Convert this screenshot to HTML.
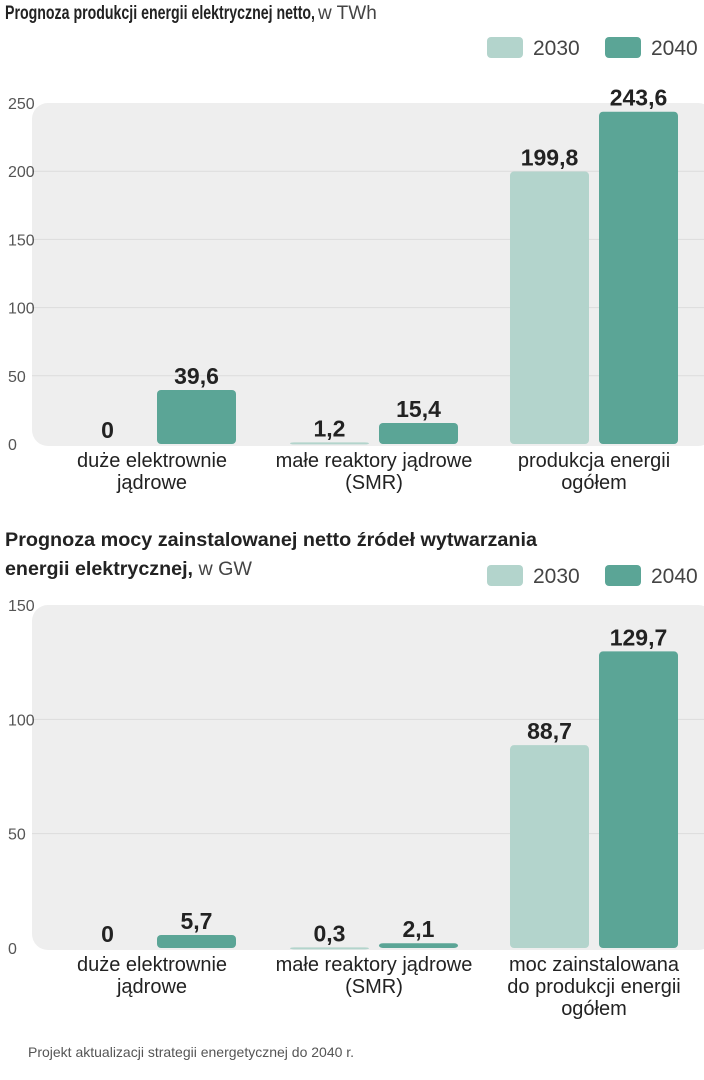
<!DOCTYPE html>
<html><head><meta charset="utf-8"><style>
html,body{margin:0;padding:0;background:#fff;width:704px;height:1080px;overflow:hidden}
svg{display:block;font-family:"Liberation Sans",sans-serif}
</style></head><body>
<svg id="s" width="704" height="1080">
<text x="5" y="19" font-size="19" font-weight="bold" fill="#222" textLength="310" lengthAdjust="spacingAndGlyphs">Prognoza produkcji energii elektrycznej netto,</text>
<text x="318" y="19" font-size="19" fill="#444">w TWh</text>
<text x="5" y="546" font-size="19" font-weight="bold" fill="#222" textLength="532" lengthAdjust="spacingAndGlyphs">Prognoza mocy zainstalowanej netto źródeł wytwarzania</text>
<text x="5" y="575" font-size="19" font-weight="bold" fill="#222" textLength="247" lengthAdjust="spacingAndGlyphs">energii elektrycznej,<tspan font-weight="normal" fill="#444"> w GW</tspan></text>
<text x="28" y="1057" font-size="14" fill="#555">Projekt aktualizacji strategii energetycznej do 2040 r.</text>
</svg>
<script>
const cats1=["duże elektrownie|jądrowe","małe reaktory jądrowe|(SMR)","produkcja energii|ogółem"];
const v2030a=[0,1.2,199.8];
const v2040a=[39.6,15.4,243.6];
const ticks1=[0,50,100,150,200,250];
const cats2=["duże elektrownie|jądrowe","małe reaktory jądrowe|(SMR)","moc zainstalowana|do produkcji energii|ogółem"];
const v2030b=[0,0.3,88.7];
const v2040b=[5.7,2.1,129.7];
const ticks2=[0,50,100,150];
const labelsA=["0","1,2","199,8"],labelsA2=["39,6","15,4","243,6"];
const labelsB=["0","0,3","88,7"],labelsB2=["5,7","2,1","129,7"];
const svg=document.getElementById('s');const NS="http://www.w3.org/2000/svg";
const C1="#b3d4cc",C2="#5ba596";
function mk(t,a,p){const e=document.createElementNS(NS,t);for(const k in a)e.setAttribute(k,a[k]);(p||svg).appendChild(e);return e;}
function chart(id,cats,a,b,la,lb,ticks,max,top,base,legY){
 const y=v=>base-(v/max)*(base-top);
 const g=mk('g',{});
 const bg=mk('rect',{x:32,y:top,width:704-32+10,height:base-top+2,rx:16,fill:'#eeeeee'},g);
 
 ticks.forEach(t=>{
  if(t>0&&t<max){const l=mk('line',{x1:32,x2:704,y1:y(t),y2:y(t),stroke:'#dcdcdc','stroke-width':1},g);
  }
  const tx=mk('text',{x:8,y:y(t)+6,'font-size':16,fill:'#555'},g);tx.textContent=t;
  
 });
 const x0=[68,290,510],bw=79,gap=10;
 cats.forEach((c,i)=>{
  [[a,C1,la,0],[b,C2,lb,1]].forEach(([arr,col,lab,k])=>{
   const x=x0[i]+k*(bw+gap),v=arr[i],yy=y(v);
   const r=mk('rect',{x:x,y:yy,width:bw,height:Math.max(base-yy,v>0?2:0),rx:4,fill:col},g);
   
   const t=mk('text',{x:x+bw/2,y:yy-6,'text-anchor':'middle','font-size':23,'font-weight':'bold',fill:'#222'},g);
   t.textContent=lab[i];
   
  });
  const cx=x0[i]+bw+gap/2;
  c.split('|').forEach((ln,j)=>{const t=mk('text',{x:cx,y:base+23+j*22,'text-anchor':'middle','font-size':20,fill:'#222'},g);t.textContent=ln;
   });
 });
 [[C1,'2030',487,533],[C2,'2040',605,651]].forEach(([col,txt,sx,tx])=>{
  const s=mk('rect',{x:sx,y:legY,width:36,height:21,rx:4,fill:col},g);
  
  const t=mk('text',{x:tx,y:legY+18,'font-size':21,fill:'#444'},g);t.textContent=txt;
  
 });
}
chart('chart-energy-production',cats1,v2030a,v2040a,labelsA,labelsA2,ticks1,250,103,444,37);
chart('chart-installed-capacity',cats2,v2030b,v2040b,labelsB,labelsB2,ticks2,150,605,948,565);
</script>
</body></html>
